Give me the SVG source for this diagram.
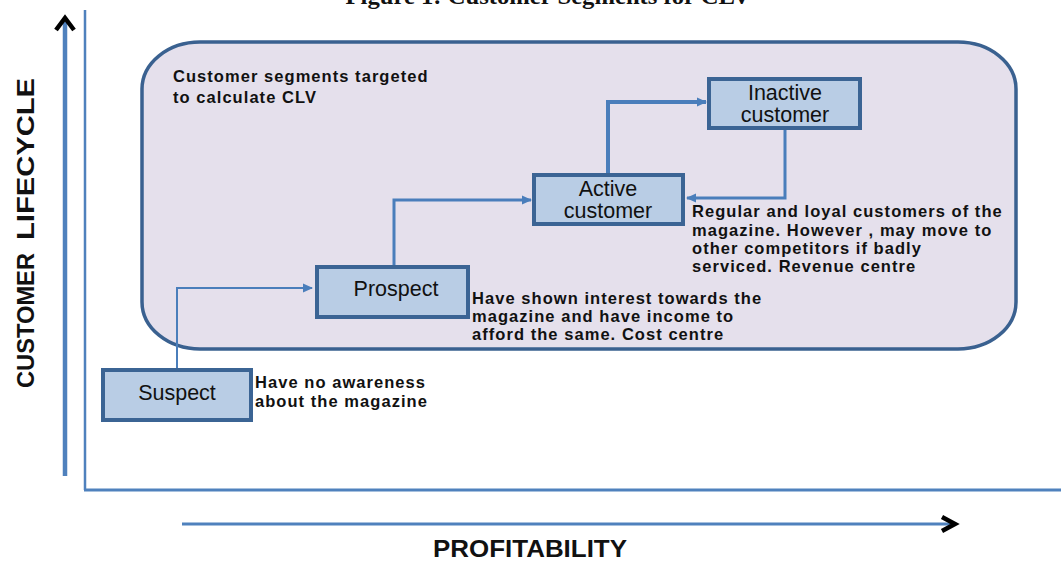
<svg xmlns="http://www.w3.org/2000/svg" width="1061" height="561" viewBox="0 0 1061 561">
<style>
.box{fill:#b9cde5;stroke:#3b6494;stroke-width:4}
.lbl{font-family:"Liberation Sans",Arial,sans-serif;font-size:21.5px;fill:#111;text-anchor:middle}
.note{font-family:"Liberation Sans",Arial,sans-serif;font-size:16.5px;font-weight:bold;fill:#111;letter-spacing:1.05px}
.conn{fill:none;stroke:#4a7ebb}
.axis{fill:none;stroke:#4f81bd}
.chev{fill:none;stroke:#000;stroke-width:4.5}
.ax-lbl{font-family:"Liberation Sans",Arial,sans-serif;font-weight:bold;fill:#111}
</style>
<defs>
<marker id="ah" markerUnits="userSpaceOnUse" markerWidth="10" markerHeight="10" viewBox="0 0 10 10" refX="9" refY="5" orient="auto">
<path d="M0,0.5 L10,5 L0,9.5 Z" fill="#4a7ebb"/>
</marker>
</defs>
<rect width="1061" height="561" fill="#ffffff"/>
<text x="548" y="4" style="font-family:'Liberation Serif','Times New Roman',serif;font-weight:bold;font-size:24px;fill:#111" text-anchor="middle" textLength="405" lengthAdjust="spacingAndGlyphs">Figure 1: Customer Segments for CLV</text>
<g id="axes">
<line class="axis" x1="65" y1="22" x2="65" y2="476" stroke-width="4.5"/>
<polyline class="chev" points="56,30 65,18 74,30"/>
<line class="axis" x1="85" y1="10" x2="85" y2="490" stroke-width="2.5"/>
<line class="axis" x1="84" y1="490" x2="1061" y2="490" stroke-width="3"/>
<line class="axis" x1="182" y1="524" x2="952" y2="524" stroke-width="3" stroke="#6b96c8"/>
<polyline class="chev" points="942,517 955,524 942,531"/>
<text class="ax-lbl" x="530" y="557" font-size="24" text-anchor="middle" textLength="194" lengthAdjust="spacingAndGlyphs">PROFITABILITY</text>
<text class="ax-lbl" transform="rotate(-90)" font-size="23"><tspan x="-388" y="34" textLength="135" lengthAdjust="spacingAndGlyphs">CUSTOMER</tspan><tspan x="-240" y="34" textLength="162" lengthAdjust="spacingAndGlyphs">LIFECYCLE</tspan></text>
</g>
<g id="segment-area">
<rect x="142" y="42" width="874" height="307" rx="58" ry="47" fill="#e5e0ec" stroke="#3a6190" stroke-width="3.5"/>
<text class="note"><tspan x="173" y="82">Customer segments targeted</tspan><tspan x="173" y="103">to calculate CLV</tspan></text>
</g>
<g id="connectors">
<polyline class="conn" stroke-width="2" points="177,368 177,288 312,288" marker-end="url(#ah)"/>
<polyline class="conn" stroke-width="3" points="394,265 394,200 531,200" marker-end="url(#ah)"/>
<polyline class="conn" stroke-width="4" points="608,173 608,102 706,102" marker-end="url(#ah)"/>
<polyline class="conn" stroke-width="3" points="785,130 785,198 687,198" marker-end="url(#ah)"/>
</g>
<g id="suspect">
<rect class="box" x="103" y="370" width="148" height="50"/>
<text class="lbl" x="177" y="400">Suspect</text>
<text class="note"><tspan x="255" y="388">Have no awareness</tspan><tspan x="255" y="407">about the magazine</tspan></text>
</g>
<g id="prospect">
<rect class="box" x="317" y="267" width="151" height="50"/>
<text class="lbl" x="396" y="296">Prospect</text>
<text class="note"><tspan x="472" y="304">Have shown interest towards the</tspan><tspan x="472" y="322">magazine and have income to</tspan><tspan x="472" y="340">afford the same. Cost centre</tspan></text>
</g>
<g id="active">
<rect class="box" x="534" y="175" width="149" height="49"/>
<text class="lbl"><tspan x="608" y="196">Active</tspan><tspan x="608" y="218">customer</tspan></text>
<text class="note"><tspan x="692" y="217">Regular and loyal customers of the</tspan><tspan x="692" y="236">magazine. However , may move to</tspan><tspan x="692" y="254">other competitors if badly</tspan><tspan x="692" y="272">serviced. Revenue centre</tspan></text>
</g>
<g id="inactive">
<rect class="box" x="709" y="79" width="151" height="49"/>
<text class="lbl"><tspan x="785" y="100">Inactive</tspan><tspan x="785" y="122">customer</tspan></text>
</g>
</svg>
